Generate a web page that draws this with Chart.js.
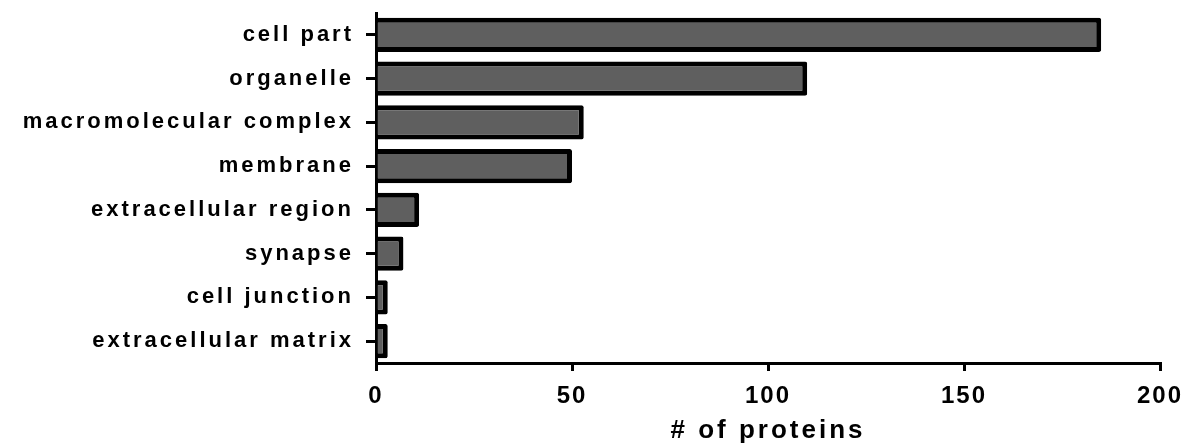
<!DOCTYPE html>
<html>
<head>
<meta charset="utf-8">
<script src="https://cdn.jsdelivr.net/npm/chart.js@4"></script>
<style>
  html, body { margin: 0; padding: 0; background: #ffffff; }
  canvas { display: block; }
</style>
</head>
<body>
<canvas id="chart" width="1191" height="446"></canvas>
<script>
// Cellular component categories and protein counts
const categories = [
  'cell part',
  'organelle',
  'macromolecular complex',
  'membrane',
  'extracellular region',
  'synapse',
  'cell junction',
  'extracellular matrix'
];
const proteinCounts = [185, 110, 53, 50, 11, 7, 3, 3];
const xTickValues = [0, 50, 100, 150, 200];
const xAxisTitle = '# of proteins';

const FAMILY = "'Liberation Sans', Arial, Helvetica, sans-serif";

// Letter spacing for each scale's labels and title
const SPACING = {
  x: { labels: '2px', title: '3px' },
  y: { labels: '3px', title: '0px' }
};

function spaced(fn, spacing) {
  return function (...args) {
    const ctx = this.ctx;
    const prev = ctx.letterSpacing;
    ctx.letterSpacing = spacing;
    const out = fn.apply(this, args);
    ctx.letterSpacing = prev;
    return out;
  };
}

const letterSpacingPlugin = {
  id: 'letterSpacing',
  beforeDraw(chart) {
    for (const id of Object.keys(SPACING)) {
      const scale = chart.scales[id];
      if (!scale || scale._spacedText) continue;
      scale.drawLabels = spaced(scale.drawLabels, SPACING[id].labels);
      scale.drawTitle = spaced(scale.drawTitle, SPACING[id].title);
      scale._spacedText = true;
    }
  }
};

new Chart(document.getElementById('chart'), {
  type: 'bar',
  data: {
    labels: categories,
    datasets: [{
      data: proteinCounts,
      backgroundColor: '#5f5f5f',
      borderColor: '#000000',
      borderWidth: 5,
      borderRadius: 2,
      barPercentage: 0.78,
      categoryPercentage: 1.0
    }]
  },
  options: {
    indexAxis: 'y',
    responsive: false,
    animation: false,
    devicePixelRatio: 1,
    layout: { padding: { top: 13, right: 31, left: 0, bottom: 0 } },
    plugins: {
      legend: { display: false },
      tooltip: { enabled: false }
    },
    scales: {
      x: {
        type: 'linear',
        min: 0,
        max: 200,
        afterBuildTicks(scale) { scale.ticks = xTickValues.map(v => ({ value: v })); },
        afterFit(scale) {
          scale.height = 83;
          scale.paddingLeft = 0;
          scale.paddingRight = 0;
        },
        grid: {
          display: true,
          drawOnChartArea: false,
          drawTicks: true,
          tickLength: 8,
          tickWidth: 3,
          tickColor: '#000000',
          color: '#000000',
          lineWidth: 3
        },
        border: { display: true, color: '#000000', width: 3 },
        ticks: {
          color: '#000000',
          padding: 11,
          maxRotation: 0,
          font: { family: FAMILY, size: 24, weight: 'bold' }
        },
        title: {
          display: true,
          text: xAxisTitle,
          color: '#000000',
          padding: { top: 0, bottom: 0 },
          font: { family: FAMILY, size: 26, weight: 'bold' }
        }
      },
      y: {
        type: 'category',
        afterFit(scale) {
          scale.width = 376;
          scale.paddingTop = 0;
          scale.paddingBottom = 0;
        },
        grid: {
          display: true,
          offset: false,
          drawOnChartArea: false,
          drawTicks: true,
          tickLength: 10,
          tickWidth: 3,
          tickColor: '#000000',
          color: '#000000',
          lineWidth: 3
        },
        border: { display: true, color: '#000000', width: 3 },
        ticks: {
          color: '#000000',
          padding: 12,
          font: { family: FAMILY, size: 22, weight: 'bold' }
        }
      }
    }
  },
  plugins: [letterSpacingPlugin]
});
</script>
</body>
</html>
